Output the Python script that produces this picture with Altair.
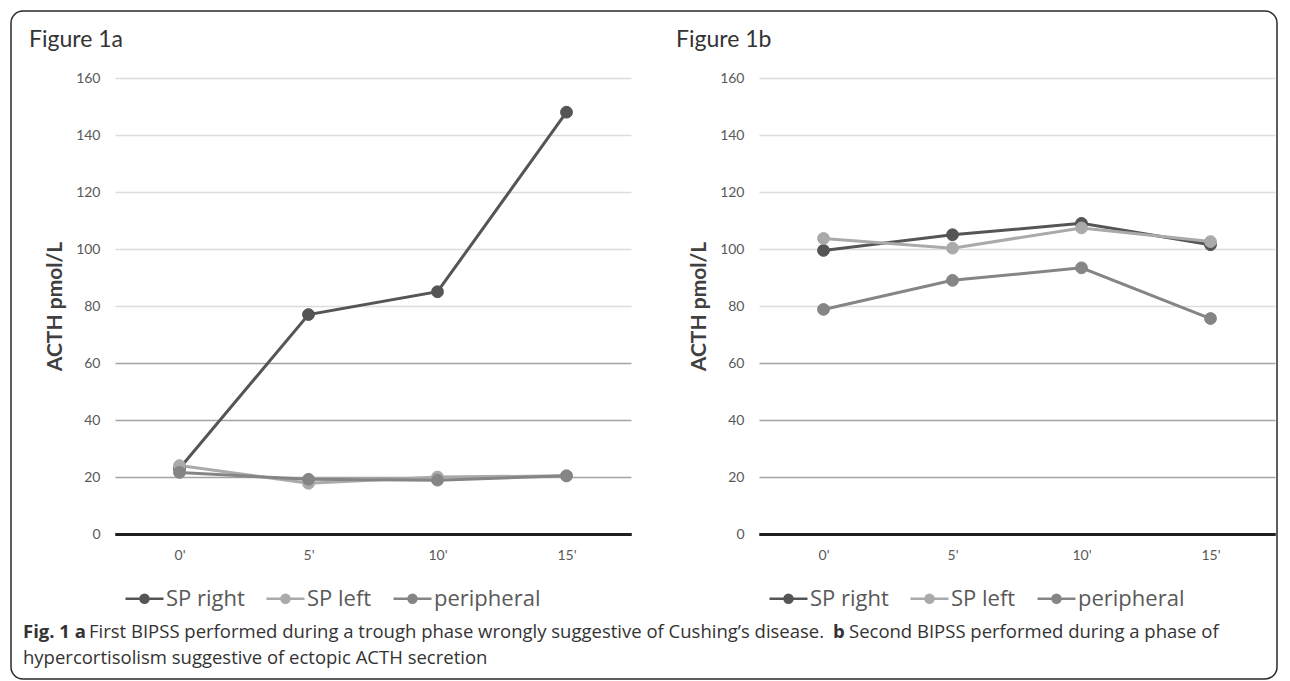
import altair as alt
import pandas as pd

# ---------------- data ----------------
times = ["0'", "5'", "10'", "15'"]
series_names = ["SP right", "SP left", "peripheral"]
series_colors = ["#555555", "#aaaaaa", "#858585"]

fig1a_sp_right = [23, 77, 85, 148]
fig1a_sp_left = [24, 17.8, 20, 20.4]
fig1a_peripheral = [21.6, 19.2, 18.9, 20.4]

fig1b_sp_right = [99.5, 105, 109, 101.5]
fig1b_sp_left = [103.7, 100.3, 107.4, 102.6]
fig1b_peripheral = [78.8, 89, 93.4, 75.6]

y_ticks = [0, 20, 40, 60, 80, 100, 120, 140, 160]

title_a = "Figure 1a"
title_b = "Figure 1b"
y_title = "ACTH pmol/L"
caption_bold_1 = "Fig. 1 a"
caption_text_1 = "First BIPSS performed during a trough phase wrongly suggestive of Cushing\u2019s disease."
caption_bold_2 = "b"
caption_text_2 = "Second BIPSS performed during a phase of"
caption_line_2 = "hypercortisolism suggestive of ectopic ACTH secretion"


def make_df(sp_right, sp_left, peripheral):
    rows = []
    for name, vals in zip(series_names, [sp_right, sp_left, peripheral]):
        for t, v in zip(times, vals):
            rows.append({"time": t, "value": v, "series": name})
    return pd.DataFrame(rows)


df_a = make_df(fig1a_sp_right, fig1a_sp_left, fig1a_peripheral)
df_b = make_df(fig1b_sp_right, fig1b_sp_left, fig1b_peripheral)

W, H = 516, 456
legend_symbol = "M-1,0H1M0.21,0A0.21,0.21 0 1 1 -0.21,0A0.21,0.21 0 1 1 0.21,0Z"


def panel(df):
    x = alt.X(
        "time:N", sort=times,
        scale=alt.Scale(type="point", padding=0.5),
        axis=alt.Axis(title=None, labelAngle=0, ticks=False, domain=True,
                      domainColor="#1f1f1f", domainWidth=3, labelPadding=14,
                      grid=False, labelFont="Lato", labelFontSize=14,
                      labelColor="#595959"),
    )
    y = alt.Y(
        "value:Q",
        scale=alt.Scale(domain=[0, 160], nice=False),
        axis=alt.Axis(
            title=y_title, values=y_ticks, ticks=False, domain=False,
            labelPadding=15, labelFont="Lato", labelFontSize=14,
            labelColor="#595959",
            titleFont="Lato", titleFontSize=21, titleFontWeight="bold",
            titleColor="#404040", titlePadding=10,
            gridColor={"condition": [
                {"test": "datum.value === 0", "value": "#1f1f1f"},
                {"test": "datum.value <= 60", "value": "#a3a3a3"}],
                "value": "#dcdcdc"},
            gridWidth={"condition": {"test": "datum.value === 0", "value": 3},
                       "value": 1.3},
        ),
    )
    leg = alt.Legend(
        title=None, orient="none", legendX=9, legendY=500,
        direction="horizontal", columns=3, symbolType=legend_symbol,
        symbolSize=1444, symbolStrokeWidth=2.5, labelFont="Open Sans",
        labelFontSize=22, labelColor="#595959", labelOffset=1,
        columnPadding=16,
    )
    sc = alt.Scale(domain=series_names, range=series_colors)
    lines = alt.Chart(df).mark_line(strokeWidth=3).encode(
        x=x, y=y, stroke=alt.Stroke("series:N", scale=sc, legend=leg))
    points = alt.Chart(df).mark_point(filled=True, size=140, strokeWidth=1,
                                      opacity=1).encode(
        x=x, y=y,
        fill=alt.Fill("series:N", scale=sc, legend=leg),
        stroke=alt.Stroke("series:N", scale=sc, legend=leg))
    return lines, points


def title_layer(s, x, y):
    return alt.Chart(pd.DataFrame({"t": [s]})).mark_text(
        align="left", baseline="alphabetic", font="Lato", fontSize=23,
        color="#333333",
    ).encode(x=alt.value(x), y=alt.value(y), text="t:N")


def text_layer(s, x, y, bold):
    return alt.Chart(pd.DataFrame({"t": [s]})).mark_text(
        align="left", baseline="alphabetic", font="Open Sans", fontSize=18.5,
        fontWeight="bold" if bold else "normal", color="#333333",
    ).encode(x=alt.value(x), y=alt.value(y), text="t:N")


border = alt.Chart(pd.DataFrame({"a": [0]})).mark_rect(
    fill="transparent", stroke="#2a2a2a", strokeWidth=1.5, cornerRadius=12
).encode(x=alt.value(-104), x2=alt.value(1162),
         y=alt.value(-67), y2=alt.value(601))

la, pa = panel(df_a)
left = alt.layer(
    border, la, pa,
    title_layer(title_a, -86, -31),
    text_layer(caption_bold_1, -92, 560, True),
    text_layer(caption_text_1, -26, 560, False),
    text_layer(caption_bold_2, 718, 560, True),
    text_layer(caption_text_2, 734, 560, False),
    text_layer(caption_line_2, -92, 586, False),
).properties(width=W, height=H)

lb, pb = panel(df_b)
right = alt.layer(lb, pb, title_layer(title_b, -83, -31)).properties(
    width=W, height=H)

chart = alt.hconcat(left, right, spacing=128, bounds="flush").resolve_scale(
    fill="independent", stroke="independent"
).properties(
    padding={"left": 1, "top": 1, "right": 1, "bottom": 1},
    background="white",
).configure_view(stroke="transparent")

chart.save("out.html", embed_options={"renderer": "svg", "actions": False})
